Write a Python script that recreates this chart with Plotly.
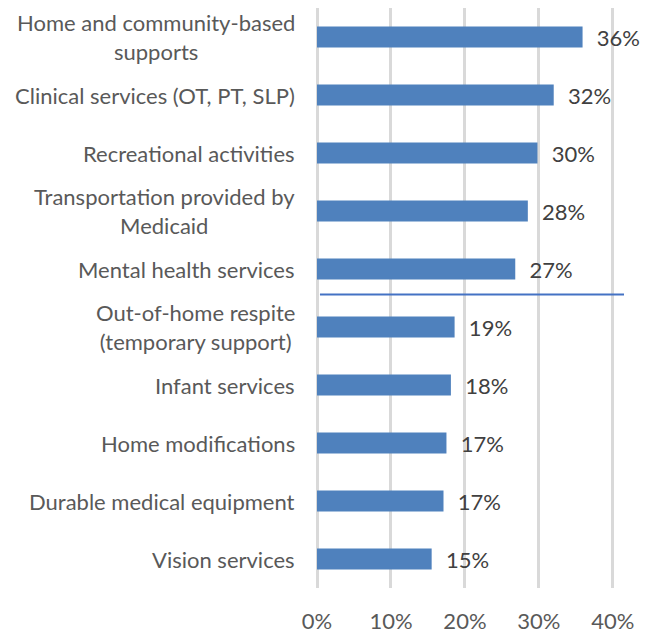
import plotly.graph_objects as go

services = [
    "Home and community-based<br>supports",
    "Clinical services (OT, PT, SLP)",
    "Recreational activities",
    "Transportation provided by<br>Medicaid",
    "Mental health services",
    "Out-of-home respite<br>(temporary support)",
    "Infant services",
    "Home modifications",
    "Durable medical equipment",
    "Vision services",
]
share = [0.359, 0.320, 0.298, 0.285, 0.268, 0.186, 0.181, 0.175, 0.171, 0.155]
share_labels = ["36%", "32%", "30%", "28%", "27%", "19%", "18%", "17%", "17%", "15%"]

FONT = "Lato, 'Noto Sans', sans-serif"

fig = go.Figure()

fig.add_trace(
    go.Bar(
        x=share,
        y=list(range(len(services))),
        orientation="h",
        marker=dict(color="#4F81BD", line=dict(width=0)),
        text=["  " + t for t in share_labels],
        textposition="outside",
        constraintext="none",
        textfont=dict(family=FONT, size=22, color="#404040"),
        cliponaxis=False,
        hoverinfo="skip",
    )
)

# category labels as annotations so two-line labels stay centred
for i, name in enumerate(services):
    fig.add_annotation(
        x=0, xref="paper",
        y=i, yref="y",
        text=name,
        showarrow=False,
        xanchor="right",
        align="center",
        xshift=-20,
        font=dict(family=FONT, size=22, color="#595959"),
    )

# separator between top five and the rest
fig.add_shape(
    type="line",
    xref="x", yref="y",
    x0=0.004, x1=0.415,
    y0=4.44, y1=4.44,
    line=dict(color="#4472C4", width=2),
)

# page body has an 8px margin, so the figure is a bit smaller than the window
fig.update_layout(
    width=642,
    height=626,
    margin=dict(l=309, r=26, t=0, b=42),
    plot_bgcolor="white",
    paper_bgcolor="white",
    showlegend=False,
    bargap=0.64,
    xaxis=dict(
        range=[0, 0.415],
        tickvals=[0, 0.1, 0.2, 0.3, 0.4],
        tickformat=".0%",
        showgrid=True,
        gridcolor="#D9D9D9",
        gridwidth=2.5,
        zeroline=True,
        zerolinecolor="#D9D9D9",
        zerolinewidth=2.5,
        showline=False,
        ticklabelstandoff=18,
        tickfont=dict(family=FONT, size=22, color="#595959"),
    ),
    yaxis=dict(
        range=[9.5, -0.5],
        showticklabels=False,
        showgrid=False,
        zeroline=False,
        showline=False,
    ),
)

fig.write_html("out.html")
